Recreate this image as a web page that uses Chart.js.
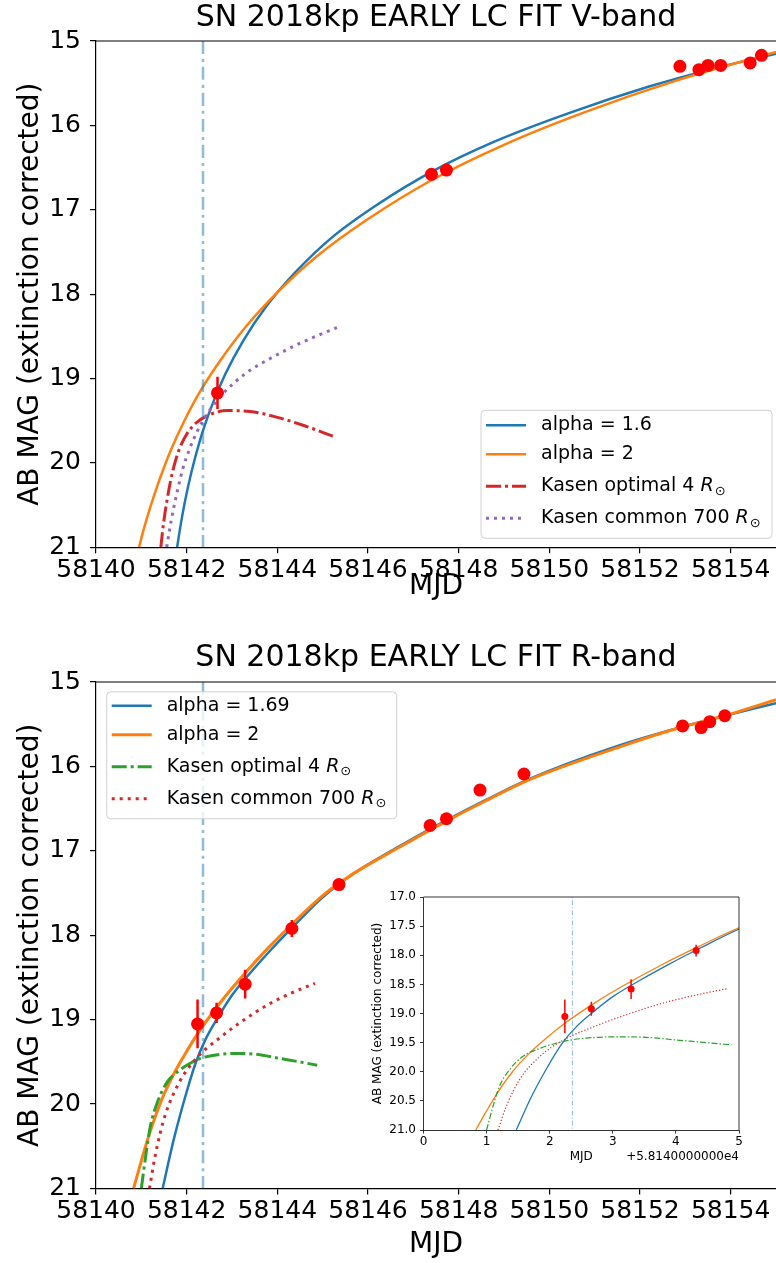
<!DOCTYPE html>
<html lang="en">
<head>
<meta charset="UTF-8">
<title>SN 2018kp early LC fit</title>
<script src="https://cdn.jsdelivr.net/npm/chart.js@4.4.0/dist/chart.umd.min.js"></script>
<style>
  body { margin: 0; background: #fff; }
  #page { position: relative; width: 776px; height: 1263px; overflow: hidden; background: #fff; }
  canvas { position: absolute; }
</style>
</head>
<body>
<div id="page">
  <canvas id="vChart" width="776" height="610" style="left:0;top:0;width:776px;height:610px"></canvas>
  <canvas id="rChart" width="776" height="643" style="left:0;top:620px;width:776px;height:643px"></canvas>
  <canvas id="inset" width="390" height="300" style="left:360px;top:880px;width:390px;height:300px"></canvas>
</div>
<script>
Chart.defaults.font.family = "'DejaVu Sans', sans-serif";
Chart.defaults.color = '#000';

// ticks
const xTicks = [58140, 58142, 58144, 58146, 58148, 58150, 58152, 58154];
const yTicks = [15, 16, 17, 18, 19, 20, 21];
const insetXTicks = [58140, 58141, 58142, 58143, 58144, 58145];
const insetYTicks = [17, 17.5, 18, 18.5, 19, 19.5, 20, 20.5, 21];

// explosion epoch marker
const explosionMJD = [58142.36, 58142.36];
const explosionMag = [15, 21];

// ---- V band ----
const vObsMJD = [58142.68, 58147.40, 58147.73, 58152.88, 58153.30, 58153.50, 58153.78, 58154.43, 58154.68];
const vObsMag = [19.17, 16.58, 16.53, 15.30, 15.34, 15.29, 15.29, 15.26, 15.17];
const vObsErr = [0.19, 0.05, 0.04, 0.03, 0.03, 0.03, 0.03, 0.03, 0.03];

const vA16MJD = [58141.79, 58141.85, 58141.95, 58142.10, 58142.30, 58142.55, 58142.85, 58143.25, 58143.75,
                 58144.40, 58145.20, 58146.20, 58147.40, 58148.80, 58150.40, 58152.20, 58153.60, 58155.00];
const vA16Mag = [21.00, 20.79, 20.49, 20.12, 19.72, 19.33, 18.95, 18.55, 18.15,
                 17.74, 17.33, 16.94, 16.55, 16.19, 15.86, 15.54, 15.33, 15.15];

const vA2MJD = [58140.95, 58141.05, 58141.20, 58141.40, 58141.65, 58141.95, 58142.30, 58142.75, 58143.30,
                58144.00, 58144.90, 58146.00, 58147.40, 58149.00, 58150.80, 58152.80, 58155.00];
const vA2Mag = [21.00, 20.79, 20.52, 20.20, 19.85, 19.50, 19.15, 18.78, 18.39,
                17.98, 17.54, 17.11, 16.65, 16.23, 15.84, 15.47, 15.13];

const vK4MJD = [58141.43, 58141.47, 58141.52, 58141.58, 58141.65, 58141.74, 58141.85, 58142.00,
                58142.20, 58142.50, 58142.90, 58143.40, 58144.00, 58144.60, 58145.26];
const vK4Mag = [21.00, 20.80, 20.60, 20.40, 20.20, 20.00, 19.82, 19.66,
                19.53, 19.43, 19.38, 19.39, 19.46, 19.56, 19.69];

const vK700MJD = [58141.56, 58141.62, 58141.70, 58141.80, 58141.92, 58142.06, 58142.22, 58142.45,
                  58142.80, 58143.30, 58143.85, 58144.55, 58145.34];
const vK700Mag = [21.00, 20.80, 20.57, 20.32, 20.06, 19.84, 19.64, 19.42,
                  19.18, 18.94, 18.76, 18.57, 18.39];

// ---- R band ----
const rObsMJD = [58142.24, 58142.66, 58143.29, 58144.32, 58145.36, 58147.37, 58147.73, 58148.47, 58149.44, 58152.94, 58153.35, 58153.54, 58153.87];
const rObsMag = [19.05, 18.92, 18.58, 17.92, 17.40, 16.70, 16.62, 16.28, 16.09, 15.52, 15.54, 15.47, 15.40];
const rObsErr = [0.29, 0.12, 0.17, 0.10, 0.05, 0.03, 0.03, 0.03, 0.03, 0.03, 0.03, 0.03, 0.03];

const rA169MJD = [58141.47, 58141.71, 58141.97, 58142.20, 58142.42, 58142.66, 58143.00, 58143.43, 58143.88, 58144.38,
                  58145.00, 58145.68, 58146.65, 58147.62, 58148.59, 58149.55, 58151.49, 58152.94, 58153.87, 58155.00];
const rA169Mag = [21.00, 20.43, 19.91, 19.51, 19.23, 19.00, 18.71, 18.43, 18.16, 17.88,
                  17.55, 17.27, 16.96, 16.67, 16.40, 16.15, 15.76, 15.53, 15.40, 15.25];

const rA2MJD = [58140.83, 58140.99, 58141.15, 58141.41, 58141.68, 58141.94, 58142.25, 58142.74, 58143.27, 58143.80, 58144.38,
                58145.00, 58145.68, 58146.65, 58147.62, 58148.59, 58149.55, 58151.49, 58152.94, 58153.87, 58155.00];
const rA2Mag = [21.00, 20.69, 20.40, 20.00, 19.68, 19.43, 19.16, 18.80, 18.46, 18.15, 17.84,
                17.53, 17.27, 16.97, 16.68, 16.41, 16.16, 15.78, 15.53, 15.40, 15.21];

const rK4MJD = [58141.00, 58141.10, 58141.20, 58141.36, 58141.57, 58141.84, 58142.10, 58142.36, 58142.74, 58143.11, 58143.53, 58144.06, 58144.49, 58144.88];
const rK4Mag = [21.00, 20.60, 20.26, 19.97, 19.74, 19.60, 19.51, 19.45, 19.41, 19.40, 19.41, 19.46, 19.50, 19.54];

const rK700MJD = [58141.18, 58141.31, 58141.52, 58141.84, 58142.21, 58142.74, 58143.27, 58143.80, 58144.33, 58144.83];
const rK700Mag = [21.00, 20.60, 20.14, 19.74, 19.46, 19.21, 19.00, 18.82, 18.68, 18.57];

const BLUE = '#1f77b4', ORANGE = '#ff7f0e', GREEN = '#2ca02c', RED = '#d62728', PURPLE = '#9467bd';
const VLINE = 'rgba(31,119,180,0.5)';

function pts(xs, ys) { return xs.map((x, i) => ({ x: x, y: ys[i] })); }

function curve(label, xs, ys, color, width, dash, order) {
  return {
    label: label, data: pts(xs, ys), showLine: true, borderColor: color, backgroundColor: color,
    borderWidth: width, borderDash: dash || [], borderCapStyle: 'butt', pointRadius: 0,
    cubicInterpolationMode: 'monotone', inLegend: !!label, order: order
  };
}

function points(xs, ys, errs, radius, errWidth) {
  return {
    label: '', data: pts(xs, ys), showLine: false, pointRadius: radius, pointBorderWidth: 0,
    backgroundColor: '#ff0000', borderColor: '#ff0000', yErr: errs, errWidth: errWidth, order: 0
  };
}

// error bars drawn just before the marker dataset
const errorBars = {
  id: 'errorBars',
  beforeDatasetDraw(chart, args) {
    const ds = chart.data.datasets[args.index];
    if (!ds.yErr) return;
    const ctx = chart.ctx, ys = chart.scales.y, ca = chart.chartArea;
    ctx.save();
    ctx.beginPath();
    ctx.rect(ca.left, ca.top, ca.right - ca.left, ca.bottom - ca.top);
    ctx.clip();
    ctx.strokeStyle = ds.backgroundColor;
    ctx.lineWidth = ds.errWidth;
    args.meta.data.forEach((el, i) => {
      const v = ds.data[i].y, e = ds.yErr[i];
      ctx.beginPath();
      ctx.moveTo(el.x, ys.getPixelForValue(v - e));
      ctx.lineTo(el.x, ys.getPixelForValue(v + e));
      ctx.stroke();
    });
    ctx.restore();
  }
};

// the remaining spines
const frame = {
  id: 'frame',
  afterDraw(chart, args, opts) {
    if (!opts.sides) return;
    const ctx = chart.ctx, ca = chart.chartArea;
    ctx.save();
    ctx.strokeStyle = '#000';
    ctx.lineWidth = opts.width;
    ctx.beginPath();
    if (opts.sides.includes('top')) { ctx.moveTo(ca.left, ca.top); ctx.lineTo(ca.right, ca.top); }
    if (opts.sides.includes('right')) { ctx.moveTo(ca.right, ca.top); ctx.lineTo(ca.right, ca.bottom); }
    ctx.stroke();
    ctx.restore();
  }
};

function drawLabel(ctx, text, x, y, size) {
  ctx.textBaseline = 'middle';
  ctx.textAlign = 'left';
  ctx.fillStyle = '#000';
  ctx.font = size + "px 'DejaVu Sans'";
  if (text.endsWith('R⊙')) {
    const head = text.slice(0, -2);
    ctx.fillText(head, x, y);
    x += ctx.measureText(head).width;
    ctx.font = 'italic ' + size + "px 'DejaVu Sans'";
    ctx.fillText('R', x, y);
    x += ctx.measureText('R').width + 1;
    ctx.font = Math.round(size * 0.7) + "px 'DejaVu Sans'";
    ctx.fillText('⊙', x, y + size * 0.28);
  } else {
    ctx.fillText(text, x, y);
  }
}

// matplotlib-like framed legend inside the axes
const boxLegend = {
  id: 'boxLegend',
  afterDraw(chart, args, opts) {
    if (!opts.show) return;
    const ctx = chart.ctx, ca = chart.chartArea;
    const items = chart.data.datasets.filter(d => d.inLegend);
    const w = opts.width, h = opts.height;
    const x0 = opts.corner === 'lowerRight' ? ca.right - opts.dx - w : ca.left + opts.dx;
    const y0 = opts.corner === 'lowerRight' ? ca.bottom - opts.dy - h : ca.top + opts.dy;
    ctx.save();
    ctx.beginPath();
    ctx.roundRect(x0, y0, w, h, 4);
    ctx.fillStyle = 'rgba(255,255,255,0.8)';
    ctx.fill();
    ctx.strokeStyle = '#d0d0d0';
    ctx.lineWidth = 1;
    ctx.stroke();
    items.forEach((d, i) => {
      const y = y0 + opts.rows[i];
      ctx.beginPath();
      ctx.strokeStyle = d.borderColor;
      ctx.lineWidth = d.borderWidth;
      ctx.setLineDash(d.borderDash);
      ctx.moveTo(x0 + 5, y);
      ctx.lineTo(x0 + 45, y);
      ctx.stroke();
      ctx.setLineDash([]);
      drawLabel(ctx, d.label, x0 + 60, y, opts.fontSize);
    });
    ctx.restore();
  }
};

// matplotlib offset text of the inset x axis
const offsetText = {
  id: 'offsetText',
  afterDraw(chart, args, opts) {
    if (!opts.text) return;
    const ctx = chart.ctx, ca = chart.chartArea;
    ctx.save();
    ctx.font = opts.size + "px 'DejaVu Sans'";
    ctx.fillStyle = '#000';
    ctx.textAlign = 'right';
    ctx.textBaseline = 'middle';
    ctx.fillText(opts.text, ca.right, opts.y);
    ctx.restore();
  }
};

function mainOptions(title, titlePad, xHeight, mjdPad, legend) {
  return {
    responsive: false, animation: false, events: [],
    layout: { padding: 0, autoPadding: false },
    plugins: {
      legend: { display: false }, tooltip: { enabled: false },
      title: { display: true, text: title, fullSize: false, color: '#000',
               font: { size: 30, weight: 'normal' }, padding: titlePad },
      frame: { sides: ['top'], width: 1.2 },
      boxLegend: legend,
      offsetText: {}
    },
    scales: {
      x: {
        type: 'linear', min: 58140, max: 58155,
        afterBuildTicks: s => { s.ticks = xTicks.map(v => ({ value: v })); },
        afterFit: s => { s.height = xHeight; s.paddingLeft = 0; s.paddingRight = 0; },
        grid: { drawOnChartArea: false, drawTicks: true, tickLength: 6, color: '#000', lineWidth: 1.2 },
        border: { display: true, color: '#000', width: 1.2 },
        ticks: { color: '#000', font: { size: 25 }, padding: 2, maxRotation: 0, autoSkip: false,
                 callback: v => String(v) },
        title: { display: true, text: 'MJD', color: '#000', font: { size: 28 }, padding: { top: 0, bottom: mjdPad } }
      },
      y: {
        type: 'linear', reverse: true, min: 15, max: 21,
        afterBuildTicks: s => { s.ticks = yTicks.map(v => ({ value: v })); },
        afterFit: s => { s.width = 96; s.paddingTop = 0; s.paddingBottom = 0; },
        grid: { drawOnChartArea: false, drawTicks: true, tickLength: 6, color: '#000', lineWidth: 1.2 },
        border: { display: true, color: '#000', width: 1.2 },
        ticks: { color: '#000', font: { size: 25 }, padding: 9, callback: v => String(v) },
        title: { display: true, text: 'AB MAG (extinction corrected)', color: '#000', font: { size: 28 },
                 padding: { top: 14, bottom: 0 } }
      }
    }
  };
}

const plugins = [errorBars, frame, boxLegend, offsetText];

// V band chart
new Chart(document.getElementById('vChart'), {
  type: 'scatter',
  data: {
    datasets: [
      curve('alpha = 1.6', vA16MJD, vA16Mag, BLUE, 2.5, [], 5),
      curve('alpha = 2', vA2MJD, vA2Mag, ORANGE, 2.5, [], 4),
      curve('Kasen optimal 4 R⊙', vK4MJD, vK4Mag, RED, 3, [15, 4, 3, 4], 3),
      curve('Kasen common 700 R⊙', vK700MJD, vK700Mag, PURPLE, 3, [3, 5], 2),
      curve('', explosionMJD, explosionMag, VLINE, 2.5, [13, 5, 3, 5], 1),
      points(vObsMJD, vObsMag, vObsErr, 6.5, 2.5)
    ]
  },
  options: mainOptions('SN 2018kp EARLY LC FIT V-band', { top: 0, bottom: 5 }, 62.7, 6.5,
    { show: true, corner: 'lowerRight', dx: 4, dy: 9, width: 291, height: 128, rows: [15, 44, 76, 108], fontSize: 19 }),
  plugins: plugins
});

// R band chart
new Chart(document.getElementById('rChart'), {
  type: 'scatter',
  data: {
    datasets: [
      curve('alpha = 1.69', rA169MJD, rA169Mag, BLUE, 2.5, [], 5),
      curve('alpha = 2', rA2MJD, rA2Mag, ORANGE, 3, [], 4),
      curve('Kasen optimal 4 R⊙', rK4MJD, rK4Mag, GREEN, 3, [15, 4, 3, 4], 3),
      curve('Kasen common 700 R⊙', rK700MJD, rK700Mag, RED, 3, [3, 5], 2),
      curve('', explosionMJD, explosionMag, VLINE, 2.5, [13, 5, 3, 5], 1),
      points(rObsMJD, rObsMag, rObsErr, 6.5, 2.5)
    ]
  },
  options: mainOptions('SN 2018kp EARLY LC FIT R-band', { top: 20, bottom: 6 }, 74.5, 1.2,
    { show: true, corner: 'upperLeft', dx: 10.7, dy: 9.8, width: 290, height: 127, rows: [14, 43, 75, 107], fontSize: 19 }),
  plugins: plugins
});

// R band inset, first five days
new Chart(document.getElementById('inset'), {
  type: 'scatter',
  data: {
    datasets: [
      curve('', rA169MJD, rA169Mag, BLUE, 1.3, [], 5),
      curve('', rA2MJD, rA2Mag, ORANGE, 1.3, [], 4),
      curve('', rK4MJD, rK4Mag, GREEN, 1.2, [6, 2, 1.5, 2], 3),
      curve('', rK700MJD, rK700Mag, RED, 1.2, [1.2, 2], 2),
      curve('', explosionMJD, explosionMag, VLINE, 1, [5, 2, 1, 2], 1),
      points(rObsMJD, rObsMag, rObsErr, 3.5, 1.5)
    ]
  },
  options: {
    responsive: false, animation: false, events: [],
    layout: { padding: { top: 17, right: 11, bottom: 0, left: 0 }, autoPadding: false },
    plugins: {
      legend: { display: false }, tooltip: { enabled: false },
      frame: { sides: ['top', 'right'], width: 0.8 },
      boxLegend: { show: false },
      offsetText: { text: '+5.8140000000e4', size: 12, y: 276.7 }
    },
    scales: {
      x: {
        type: 'linear', min: 58140, max: 58145,
        afterBuildTicks: s => { s.ticks = insetXTicks.map(v => ({ value: v })); },
        afterFit: s => { s.height = 50; s.paddingLeft = 0; s.paddingRight = 0; },
        grid: { drawOnChartArea: false, drawTicks: true, tickLength: 3.5, color: '#000', lineWidth: 0.8 },
        border: { display: true, color: '#000', width: 0.8 },
        ticks: { color: '#000', font: { size: 12 }, padding: 1.5, maxRotation: 0, autoSkip: false,
                 callback: v => String(Math.round(v - 58140)) },
        title: { display: true, text: 'MJD', color: '#000', font: { size: 12 }, padding: { top: 0, bottom: 15.8 } }
      },
      y: {
        type: 'linear', reverse: true, min: 17, max: 21,
        afterBuildTicks: s => { s.ticks = insetYTicks.map(v => ({ value: v })); },
        afterFit: s => { s.width = 63.5; s.paddingTop = 0; s.paddingBottom = 0; },
        grid: { drawOnChartArea: false, drawTicks: true, tickLength: 3.5, color: '#000', lineWidth: 0.8 },
        border: { display: true, color: '#000', width: 0.8 },
        ticks: { color: '#000', font: { size: 12 }, padding: 4, callback: v => v.toFixed(1) },
        title: { display: true, text: 'AB MAG (extinction corrected)', color: '#000', font: { size: 12 },
                 padding: { top: 10.8, bottom: 0 } }
      }
    }
  },
  plugins: plugins
});
</script>
</body>
</html>
